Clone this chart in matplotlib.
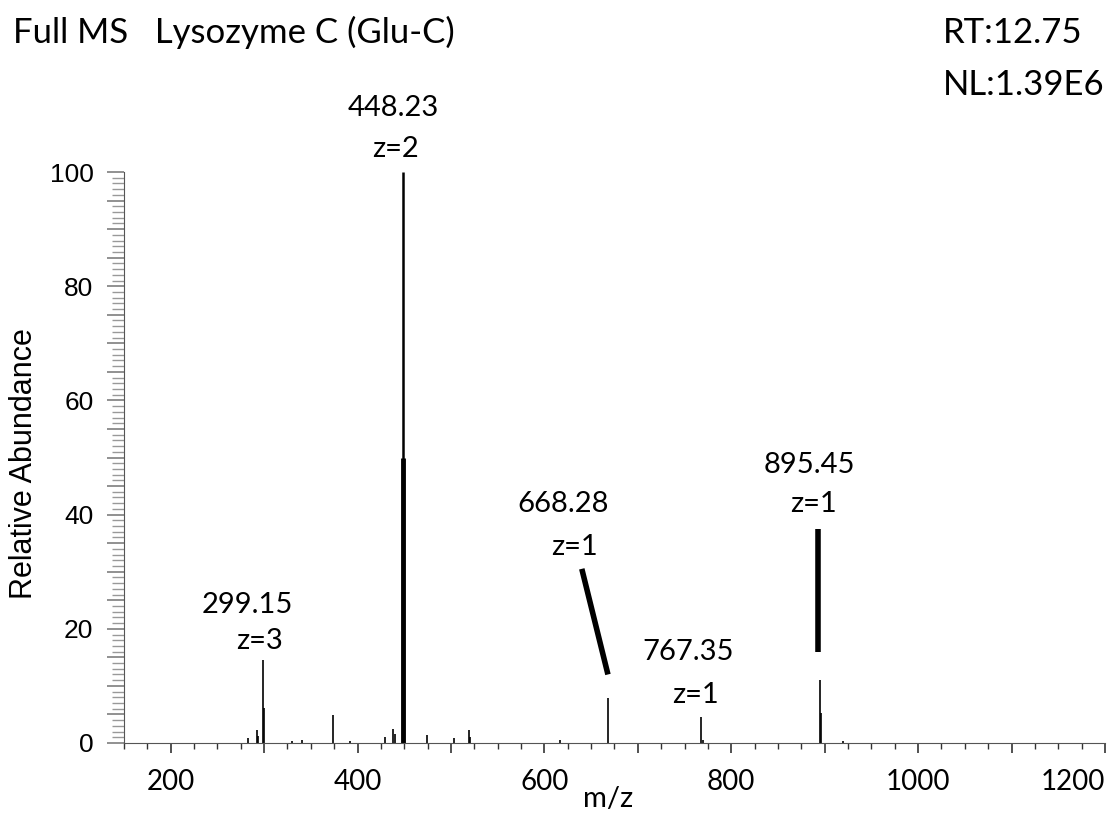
import numpy as np
import matplotlib
matplotlib.use("Agg")
import matplotlib.pyplot as plt
from matplotlib.ticker import MultipleLocator, FuncFormatter

plt.rcParams['font.family'] = ['Lato', 'DejaVu Sans']

# -------------------- data --------------------
mz = [283.0, 292.0, 293.5, 299.15, 299.48, 330.0, 340.0, 374.0, 392.0,
      429.0, 438.0, 440.0, 448.23, 448.73, 474.0, 503.0, 519.0, 520.5,
      617.0, 668.28, 767.35, 770.0, 895.45, 896.45, 920.0]
intensity = [0.9, 2.3, 1.2, 14.5, 6.1, 0.4, 0.5, 4.9, 0.4,
             1.0, 2.4, 1.5, 100.0, 50.0, 1.4, 0.8, 2.3, 1.0,
             0.6, 7.9, 4.6, 0.6, 11.0, 5.3, 0.4]

peak_mz = ["448.23", "299.15", "668.28", "767.35", "895.45"]
peak_z = ["z=2", "z=3", "z=1", "z=1", "z=1"]

# placement of the annotations (x, baseline y) for the m/z line and the z line
mz_pos = [(438, 109.8), (282, 22.8), (620, 40.5), (754, 14.5), (884, 47.3)]
z_pos = [(441, 102.6), (295, 16.5), (632, 32.9), (762, 7.0), (888, 40.5)]
leaders = [((640, 668), (30.5, 12.0)), ((893, 893), (37.5, 16.0))]

widths = [1.2] * len(mz)
widths[mz.index(448.73)] = 3.5
widths[mz.index(448.23)] = 1.8

# -------------------- figure --------------------
fig = plt.figure(figsize=(11.12, 8.18), dpi=100)
ax = fig.add_axes([0.1115, 0.0917, 0.8822, 0.698])

ax.vlines(mz, 0, intensity, colors='black', linewidth=widths)

for txt, (x, y) in zip(peak_mz, mz_pos):
    ax.text(x, y, txt, ha='center', va='baseline', fontsize=21, clip_on=False)
for txt, (x, y) in zip(peak_z, z_pos):
    ax.text(x, y, txt, ha='center', va='baseline', fontsize=21, clip_on=False)
for xs, ys in leaders:
    ax.plot(xs, ys, color='black', lw=4, solid_capstyle='butt')

ax.set_xlim(150, 1200)
ax.set_ylim(0, 100)

for s in ['top', 'right']:
    ax.spines[s].set_visible(False)
ax.spines['left'].set_color('#555555')
ax.spines['bottom'].set_color('#555555')

# x: ticks every 100 (labels every 200), minor every 25
xt = np.arange(200, 1201, 100)
ax.set_xticks(xt, labels=[str(v) if v % 200 == 0 else "" for v in xt])
ax.xaxis.set_minor_locator(MultipleLocator(25))
ax.get_xticklabels()[-1].set_horizontalalignment('right')

# y: ticks every 5 (labels every 20), minor every 1
ax.yaxis.set_major_locator(MultipleLocator(5))
ax.yaxis.set_minor_locator(MultipleLocator(1))
ax.yaxis.set_major_formatter(FuncFormatter(lambda v, p: f"{int(v)}" if v % 20 == 0 else ""))

ax.tick_params(axis='x', which='major', length=7, width=1.2, color='#333333',
               labelsize=20, pad=12)
ax.tick_params(axis='x', which='minor', length=4, width=1.0, color='#333333')
ax.tick_params(axis='y', which='major', length=12, width=1.3, color='#888888',
               labelsize=19, pad=10)
ax.tick_params(axis='y', which='minor', length=9, width=1.0, color='#999999')
for lab in ax.get_yticklabels():
    lab.set_family('Liberation Sans')

ax.set_xlabel("m/z", fontsize=21, labelpad=-4)
ax.xaxis.set_label_coords(0.493, -0.075)
ax.set_ylabel("Relative Abundance", fontsize=22, family='Liberation Sans')
ax.yaxis.set_label_coords(-0.087, 0.49)

fig.text(0.012, 1 - 43 / 818, "Full MS   Lysozyme C (Glu-C)", fontsize=25,
         va='baseline', ha='left')
fig.text(0.848, 1 - 43 / 818, "RT:12.75", fontsize=25, va='baseline', ha='left')
fig.text(0.848, 1 - 95 / 818, "NL:1.39E6", fontsize=25, va='baseline', ha='left')

fig.savefig("out.png", dpi=100)
